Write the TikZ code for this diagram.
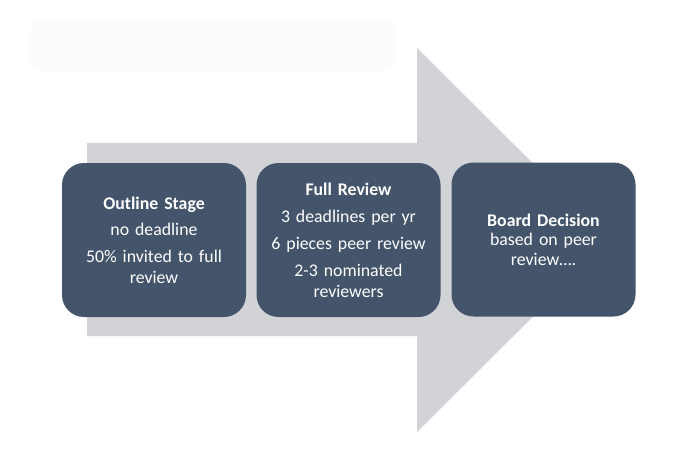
\documentclass[tikz,border=0pt]{standalone}
\usepackage{fontspec}
\setmainfont{Carlito}
\definecolor{boxfill}{HTML}{44546A}
\definecolor{arrowgrey}{HTML}{D1D3D7}
\definecolor{ghost}{HTML}{FCFCFC}
\begin{document}
\begin{tikzpicture}[x=1pt,y=-1pt,
  stagebox/.style={draw=none,fill=boxfill,rounded corners=22pt,minimum width=184pt,minimum height=154pt,
    text width=176pt,align=center,text=white,inner sep=0pt,
    font={\fontsize{17.8}{20.6}\selectfont}},
  bigarrow/.style={fill=arrowgrey,draw=none}]
\useasboundingbox (0,0) rectangle (691,469);
\fill[white] (0,0) rectangle (691,469);
\fill[ghost,rounded corners=20pt] (28,18) rectangle (398,72);
\fill[bigarrow] (87,143) -- (417,143) -- (417,48) -- (610,240) -- (417,432) -- (417,336) -- (87,336) -- cycle;
\node[stagebox] (outline) at (154,240) {\textbf{Outline Stage}\\[6pt]no deadline\\[6pt]50\% invited to full\\review};
\node[stagebox] (full) at (348.5,240) {\textbf{Full Review}\\[7pt]3 deadlines per yr\\[6.5pt]6 pieces peer review\\[6pt]2-3 nominated\\reviewers};
\node[stagebox,font={\fontsize{17.8}{19.5}\selectfont}] (board) at (543.5,239.5) {\textbf{Board Decision}\\based on peer\\review….};
\end{tikzpicture}
\end{document}
